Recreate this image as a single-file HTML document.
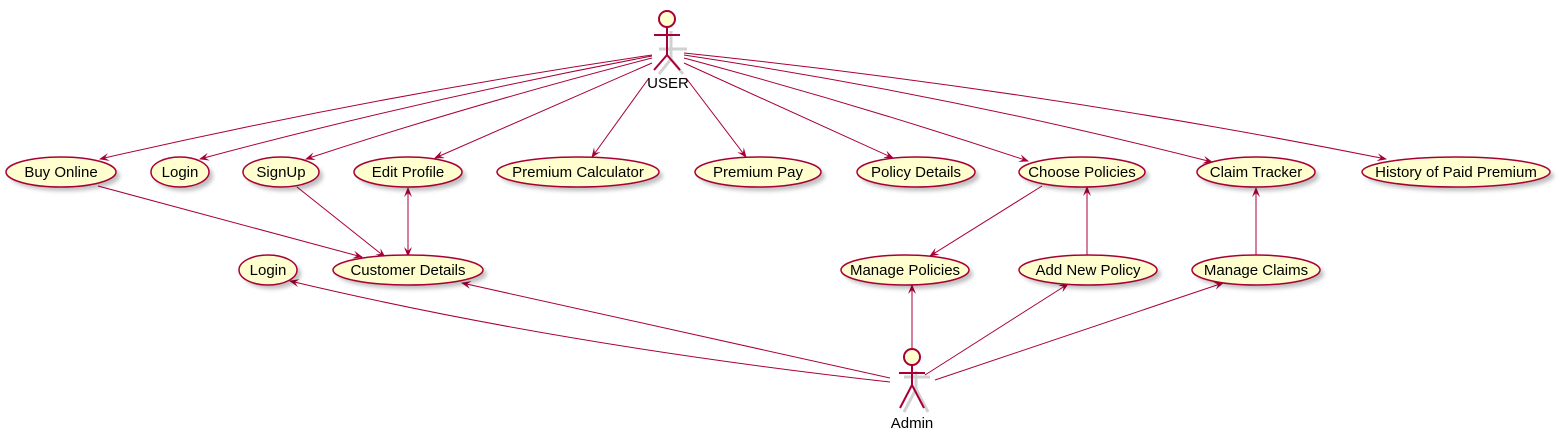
<!DOCTYPE html>
<html><head><meta charset="utf-8"><style>
html,body{margin:0;padding:0;background:#fff;}
svg{display:block;}
text{font-family:"Liberation Sans",sans-serif;font-size:15px;fill:#000;}
</style></head><body>
<svg width="1560" height="440" viewBox="0 0 1560 440" xmlns="http://www.w3.org/2000/svg">
<defs>
<marker id="a" markerWidth="10" markerHeight="8" refX="9" refY="4" orient="auto" markerUnits="userSpaceOnUse">
<path d="M0,0 L10,4 L0,8 L4,4 Z" fill="#A80036"/></marker>
<marker id="s" markerWidth="10" markerHeight="8" refX="1" refY="4" orient="auto" markerUnits="userSpaceOnUse">
<path d="M10,0 L0,4 L10,8 L6,4 Z" fill="#A80036"/></marker>
<filter id="sh" x="-10%" y="-20%" width="130%" height="160%"><feGaussianBlur stdDeviation="2"/></filter>
</defs>
<g stroke="#A80036" stroke-width="1" fill="none">
<path d="M652,55 Q380,95 100,159" marker-end="url(#a)"/>
<path d="M652,56 Q420,100 200,159" marker-end="url(#a)"/>
<path d="M652,58 Q470,105 306,159" marker-end="url(#a)"/>
<line x1="652" y1="63" x2="435" y2="158" marker-end="url(#a)"/>
<line x1="649" y1="78" x2="592" y2="157" marker-end="url(#a)"/>
<line x1="686" y1="78" x2="746" y2="157" marker-end="url(#a)"/>
<line x1="684" y1="63" x2="893" y2="158" marker-end="url(#a)"/>
<path d="M684,58 Q860,105 1028,161" marker-end="url(#a)"/>
<path d="M684,55 Q950,95 1212,162" marker-end="url(#a)"/>
<path d="M684,53 Q1040,90 1386,159" marker-end="url(#a)"/>
<line x1="98" y1="186" x2="362" y2="257" marker-end="url(#a)"/>
<line x1="297" y1="187" x2="385" y2="257" marker-end="url(#a)"/>
<line x1="408" y1="188" x2="408" y2="256" marker-start="url(#s)" marker-end="url(#a)"/>
<line x1="1042" y1="186" x2="930" y2="256" marker-end="url(#a)"/>
<line x1="1087" y1="256" x2="1087" y2="187" marker-end="url(#a)"/>
<line x1="1256" y1="256" x2="1256" y2="188" marker-end="url(#a)"/>
<path d="M890,382 Q560,345 290,281" marker-end="url(#a)"/>
<line x1="890" y1="378" x2="462" y2="283" marker-end="url(#a)"/>
<line x1="912" y1="348" x2="912" y2="285" marker-end="url(#a)"/>
<line x1="925" y1="375" x2="1068" y2="284" marker-end="url(#a)"/>
<line x1="935" y1="380" x2="1223" y2="283" marker-end="url(#a)"/>
</g>
<g>
<g fill="#000" opacity="0.25" filter="url(#sh)">
<ellipse cx="65" cy="176" rx="55" ry="15"/><ellipse cx="184" cy="176" rx="29" ry="15"/>
<ellipse cx="285" cy="176" rx="38" ry="15"/><ellipse cx="412" cy="176" rx="54" ry="15"/>
<ellipse cx="582" cy="176" rx="81" ry="15"/><ellipse cx="762" cy="176" rx="63" ry="15"/>
<ellipse cx="920" cy="176" rx="59" ry="15"/><ellipse cx="1086" cy="176" rx="63" ry="15"/>
<ellipse cx="1260" cy="176" rx="59" ry="15"/><ellipse cx="1460" cy="176" rx="94" ry="15"/>
<ellipse cx="272" cy="274" rx="29" ry="15"/><ellipse cx="412" cy="274" rx="75" ry="15"/>
<ellipse cx="909" cy="274" rx="64" ry="15"/><ellipse cx="1092" cy="274" rx="69" ry="15"/>
<ellipse cx="1260" cy="274" rx="64" ry="15"/>
</g>
<g fill="#FEFECE" stroke="#A80036" stroke-width="1.5">
<ellipse cx="61" cy="172" rx="55" ry="15"/><ellipse cx="180" cy="172" rx="29" ry="15"/>
<ellipse cx="281" cy="172" rx="38" ry="15"/><ellipse cx="408" cy="172" rx="54" ry="15"/>
<ellipse cx="578" cy="172" rx="81" ry="15"/><ellipse cx="758" cy="172" rx="63" ry="15"/>
<ellipse cx="916" cy="172" rx="59" ry="15"/><ellipse cx="1082" cy="172" rx="63" ry="15"/>
<ellipse cx="1256" cy="172" rx="59" ry="15"/><ellipse cx="1456" cy="172" rx="94" ry="15"/>
<ellipse cx="268" cy="270" rx="29" ry="15"/><ellipse cx="408" cy="270" rx="75" ry="15"/>
<ellipse cx="905" cy="270" rx="64" ry="15"/><ellipse cx="1088" cy="270" rx="69" ry="15"/>
<ellipse cx="1256" cy="270" rx="64" ry="15"/>
</g>
<g text-anchor="middle">
<text x="61" y="177">Buy Online</text><text x="180" y="177">Login</text>
<text x="281" y="177">SignUp</text><text x="408" y="177">Edit Profile</text>
<text x="578" y="177">Premium Calculator</text><text x="758" y="177">Premium Pay</text>
<text x="916" y="177">Policy Details</text><text x="1082" y="177">Choose Policies</text>
<text x="1256" y="177">Claim Tracker</text><text x="1456" y="177">History of Paid Premium</text>
<text x="268" y="275">Login</text><text x="408" y="275">Customer Details</text>
<text x="905" y="275">Manage Policies</text><text x="1088" y="275">Add New Policy</text>
<text x="1256" y="275">Manage Claims</text>
<text x="668" y="88">USER</text><text x="912" y="428">Admin</text>
</g>
</g>
<g fill="none" stroke="#000" stroke-opacity="0.18" stroke-width="3">
<path d="M671,31 V59 M659,49 H687 M671,59 L659,74 M671,59 L683,74"/>
<path d="M916,371 V389 M904,377 H930 M916,389 L904,412 M916,389 L928,412"/>
</g>
<g stroke="#A80036" stroke-width="2" fill="#FEFECE">
<circle cx="667" cy="19" r="8"/>
<path d="M667,27 V55 M654,35 H680 M667,55 L654,70 M667,55 L680,70" fill="none"/>
<circle cx="912" cy="357" r="8"/>
<path d="M912,365 V385 M899,373 H925 M912,385 L900,408 M912,385 L924,408" fill="none"/>
</g>
</svg>
</body></html>
